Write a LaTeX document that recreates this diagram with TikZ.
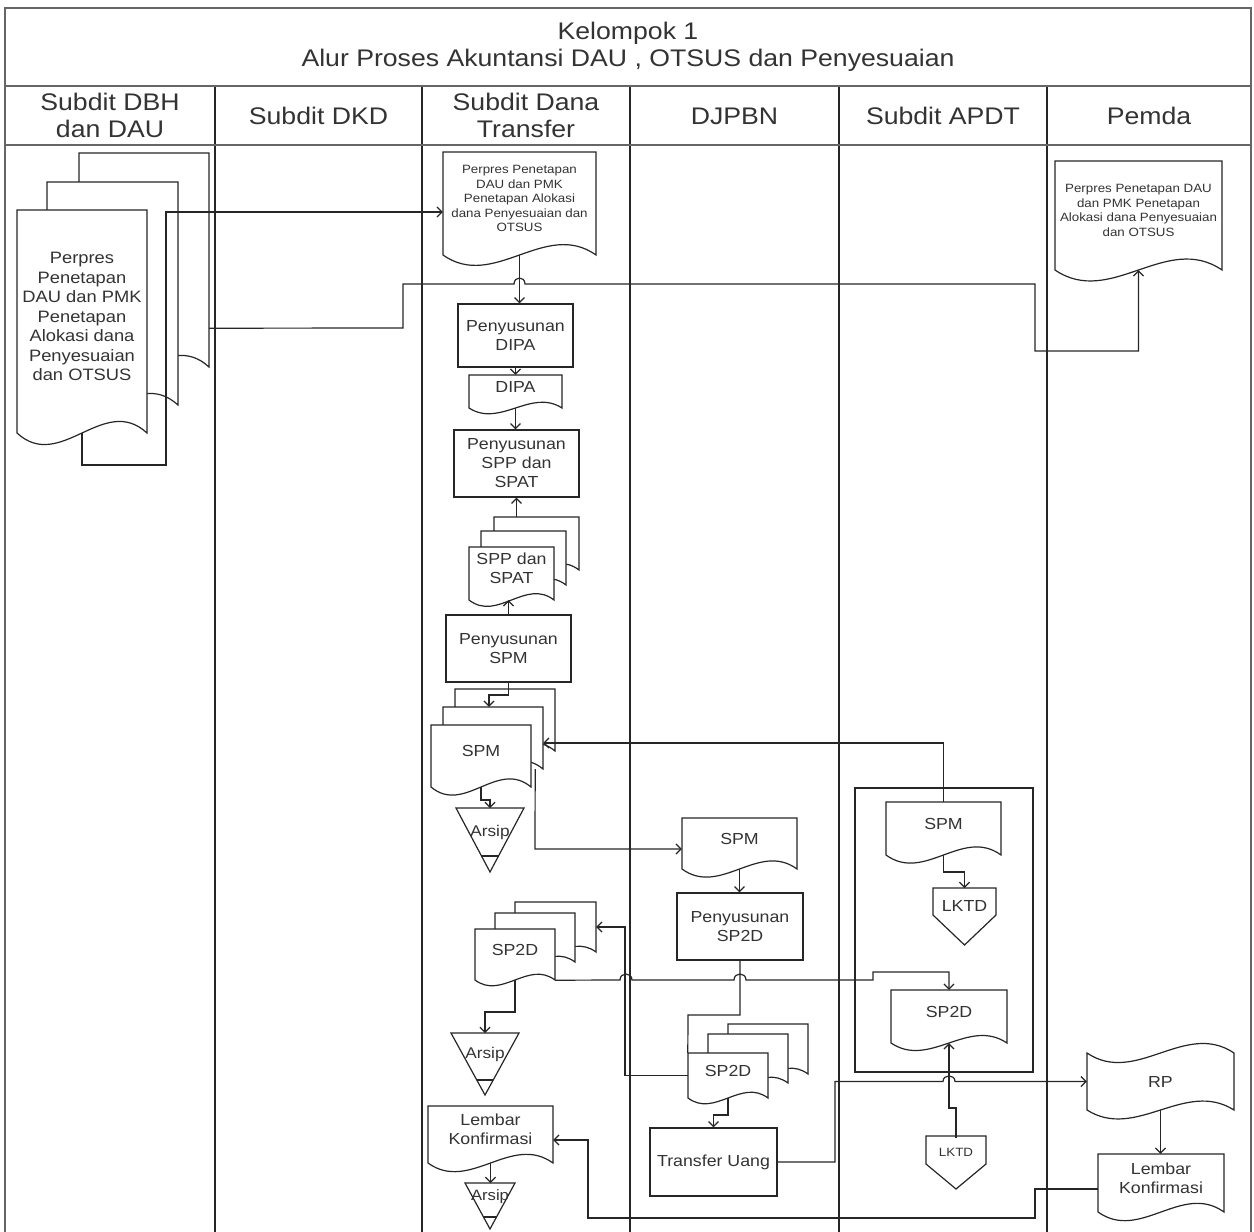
\documentclass[tikz,border=0pt]{standalone}
\usepackage{fontspec}
\setmainfont{Liberation Sans}[FakeStretch=1.11]
\usetikzlibrary{calc,arrows.meta}
\newcommand\fsz[2]{\fontsize{#1}{#2}\selectfont}
\colorlet{ink}{black!85}
\tikzset{
  frame/.style={draw=black!60, line width=2.2pt},
  lane/.style={draw=ink, line width=1.3pt},
  shp/.style={draw=ink, line width=1.2pt, fill=white},
  outl/.style={draw=ink, line width=1.2pt},
  conn/.style={draw=ink, line width=1.2pt},
  arr/.style={conn, -{Straight Barb[length=5pt,width=10pt]}},
  hdr/.style={font=\fsz{24}{27}, align=center, inner sep=0pt, text=black!80},
  txt/.style={font=\fsz{16}{19}, align=center, inner sep=0pt, text=black!80},
  mid/.style={font=\fsz{16.5}{19.5}, align=center, inner sep=0pt, text=black!80},
  small/.style={font=\fsz{12}{14.5}, align=center, inner sep=0pt, text=black!80},
  box/.style={shp, font=\fsz{16}{19}, align=center, inner sep=0pt, text=black!80},
}
% document shape: name, x0, x1, top, ybottom, wave, text style, text
\newcommand\wdoc[8]{%
  \path[shp] (#2,#4) -- (#2,#5) .. controls ({#2+(#3-#2)/3},{#5+#6}) and ({#2+2*(#3-#2)/3},{#5-#6}) .. (#3,#5) -- (#3,#4) -- cycle;
  \node[minimum width={#3-#2}, minimum height={#5-#4}, inner sep=0pt] (#1) at ({(#2+#3)/2},{(#4+#5)/2}) {};
  \node[#7] (#1-t) at ({(#2+#3)/2},{(#4+#5)/2-5}) {#8};}
\begin{document}
\begin{tikzpicture}[x=1pt,y=-1pt]
\useasboundingbox (0,0) rectangle (1254,1232);
% lanes and frame
\foreach \x in {215,422,630,839,1047} \draw[lane] (\x,86) -- (\x,1232);
\draw[frame] (5,1232) -- (5,8) -- (1251,8) -- (1251,1232);
\draw[frame] (5,86) -- (1251,86);
\draw[frame] (5,145) -- (1251,145);
\node[hdr] (title) at (628,47) {Kelompok 1\\Alur Proses Akuntansi DAU , OTSUS dan Penyesuaian};
\node[hdr] (h1) at (110,115.5) {Subdit DBH\\dan DAU};
\node[hdr] (h2) at (318.5,116) {Subdit DKD};
\node[hdr] (h3) at (526,115.5) {Subdit Dana\\Transfer};
\node[hdr] (h4) at (734.5,116) {DJPBN};
\node[hdr] (h5) at (943,116) {Subdit APDT};
\node[hdr] (h6) at (1149,116) {Pemda};

% lane 1 multi document
\wdoc{dbhB}{79}{209}{153}{367}{40}{mid}{}
\wdoc{dbhM}{47}{178}{182}{405}{40}{mid}{}
\wdoc{dbhF}{17}{147}{210}{433}{40}{mid}{Perpres\\Penetapan\\DAU dan PMK\\Penetapan\\Alokasi dana\\Penyesuaian\\dan OTSUS}

% Subdit Dana Transfer
\wdoc{perD}{443}{596}{152}{255}{36}{small}{Perpres Penetapan\\DAU dan PMK\\Penetapan Alokasi\\dana Penyesuaian dan\\OTSUS}
\node[box, minimum width=115, minimum height=63] (dipaBox) at (515.5,335.5) {Penyusunan\\DIPA};
\wdoc{dipaD}{469}{562}{375}{408}{20}{txt}{DIPA}
\node[box, minimum width=125, minimum height=67] (sppBox) at (516.5,463.5) {Penyusunan\\SPP dan\\SPAT};
\wdoc{sppB}{494}{579}{517}{570}{22}{txt}{}
\wdoc{sppM}{481}{566}{531}{585}{22}{txt}{}
\wdoc{sppF}{469}{554}{547}{600}{22}{txt}{SPP dan\\SPAT}
\node[box, minimum width=125, minimum height=67] (spmBox) at (508.5,648.5) {Penyusunan\\SPM};
\wdoc{spmB}{455}{555}{689}{751}{28}{txt}{}
\wdoc{spmM}{443}{543}{707}{769}{28}{txt}{}
\wdoc{spmF}{431}{531}{725}{787}{28}{txt}{SPM}
% Arsip 1
\draw[shp] (456,808) -- (524,808) -- (490,872) -- cycle;
\draw[outl] (481.5,856) -- (498.5,856);
\coordinate (ars1t) at (490,808);
\node[txt, font=\fsz{15.5}{18}] (ars1) at (490,832) {Arsip};
% SP2D multi document
\wdoc{spdB}{515}{596}{902}{952}{20}{txt}{}
\wdoc{spdM}{495}{575}{913}{962}{20}{txt}{}
\wdoc{spdF}{475}{555}{929}{980}{20}{txt}{SP2D}
% Arsip 2
\draw[shp] (451,1033) -- (519,1033) -- (485,1095) -- cycle;
\draw[outl] (476.8,1080) -- (493.2,1080);
\coordinate (ars2t) at (485,1033);
\node[txt, font=\fsz{15.5}{18}] (ars2) at (485,1054) {Arsip};
% Lembar Konfirmasi (Dana)
\wdoc{lkD}{428}{553}{1106}{1163}{30}{txt}{Lembar\\Konfirmasi}
% Arsip 3
\draw[shp] (465,1183) -- (515,1183) -- (490,1229) -- cycle;
\draw[outl] (483.5,1217) -- (496.5,1217);
\coordinate (ars3t) at (490.5,1183);
\node[txt, font=\fsz{15}{18}] (ars3) at (490,1197) {Arsip};

% DJPBN
\wdoc{djS}{682}{797}{818}{869}{28}{txt}{SPM}
\node[box, minimum width=126, minimum height=67] (spdBox) at (740,926.5) {Penyusunan\\SP2D};
\wdoc{djB}{728}{808}{1024}{1074}{20}{txt}{}
\wdoc{djM}{708}{788}{1034}{1083}{20}{txt}{}
\wdoc{djF}{688}{768}{1053}{1098}{20}{txt}{SP2D}
\node[box, minimum width=127, minimum height=68] (tuBox) at (713.5,1162) {Transfer Uang};

% Subdit APDT
\draw[outl] (855,788) rectangle (1033,1072);
\wdoc{apS}{886}{1001}{802}{855}{28}{txt}{SPM}
\draw[shp] (933,888) -- (996,888) -- (996,915) -- (964.5,945) -- (933,915) -- cycle;
\coordinate (lk1t) at (964.5,888);
\node[txt] (lk1) at (964.5,906) {LKTD};
\wdoc{apP}{891}{1007}{990}{1043}{26}{txt}{SP2D}
\draw[shp] (926,1136) -- (986,1136) -- (986,1164) -- (956,1189) -- (926,1164) -- cycle;
\node[small, minimum width=60, minimum height=28] (lk2) at (956,1152) {LKTD};

% Pemda
\wdoc{pemP}{1055}{1222}{161}{270}{38}{small}{Perpres Penetapan DAU\\dan PMK Penetapan\\Alokasi dana Penyesuaian\\dan OTSUS}
\path[shp] (1087,1053) .. controls (1136,1086) and (1185,1020) .. (1234,1053) -- (1234,1110) .. controls (1185,1079) and (1136,1141) .. (1087,1110) -- cycle;
\node[txt, minimum width=147, minimum height=57] (rp) at (1160.5,1081.5) {RP};
\wdoc{lkP}{1098}{1224}{1154}{1212}{30}{txt}{Lembar\\Konfirmasi}

% connectors
\coordinate (c1) at (166,212);
\draw[arr] (dbhF.south) -- (82,465) -- (166,465) -- (c1) -- (c1 -| perD.west);
\draw[arr] ($(dbhB.south east)+(0,-39)$) -- (403,328) -- (403,284) -- (514,284) .. controls (514,276) and (525,276) .. (525,284) -- (1035,284) -- (1035,351) -- (1138.5,351) -- (pemP.south);
\draw[arr] (perD.south) -- (perD.south |- dipaBox.north);
\draw[arr] (dipaBox.south) -- (dipaD.north);
\draw[arr] (dipaD.south) -- (dipaD.south |- sppBox.north);
\draw[arr] (sppBox.south |- sppB.north) -- (sppBox.south);
\draw[arr] (spmBox.north) -- (spmBox.north |- sppF.south);
\draw[arr] (spmBox.south) -- (508.5,695) -- (489,695) -- ($(spmM.north)+(-4,0)$);
\draw[arr] (spmF.south) -- (481,800) -- (490,800) -- (ars1t);
\coordinate (k3) at (535,849);
\draw[arr] ($(spmM.south east)+(-8,0)$) -- (k3) -- (k3 -| djS.west);
\coordinate (k1) at (943.5,743);
\draw[arr] (apS.north) -- (k1) -- (k1 -| spmM.east);
\draw[arr] (apS.south) -- (943.5,872) -- (964.5,872) -- (lk1t);
\draw[arr] (djS.south) -- (djS.south |- spdBox.north);
\draw[arr] (spdF.south east) -- (620,980) .. controls (620,972) and (632,972) .. (632,980) -- (734,980) .. controls (734,972) and (746,972) .. (746,980) -- (873,980) -- (873,972) -- (949,972) -- (apP.north);
\coordinate (k2) at (625,0);
\draw[arr] (djF.west) -- (djF.west -| k2) -- (spdB.east -| k2) -- (spdB.east);
\draw[conn] (spdBox.south) -- (740,1015) -- (688,1015) -- (djF.north west);
\draw[arr] (spdF.south) -- (515,1012) -- (485,1012) -- (ars2t);
\draw[arr] (djF.south) -- (728,1115) -- (713.5,1115) -- (tuBox.north);
\draw[arr] (tuBox.east) -- (835,1162) -- (835,1081.5) -- (943,1081.5) .. controls (943,1074) and (955,1074) .. (955,1081.5) -- (rp.west);
\draw[arr] (lk2.north) -- (956,1108) -- (949,1108) -- (apP.south);
\draw[arr] (rp.south) -- (rp.south |- lkP.north);
\draw[arr] ($(lkP.west)+(0,6)$) -- (1035,1189) -- (1035,1218) -- (588,1218) -- (588,1140) -- ($(lkD.east)+(0,5.5)$);
\draw[arr] (lkD.south) -- (ars3t);
\end{tikzpicture}
\end{document}
